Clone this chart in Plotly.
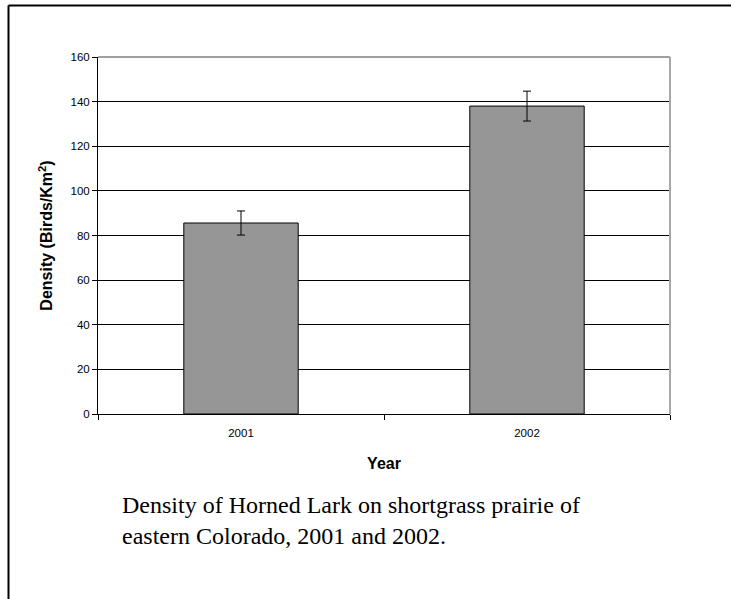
import plotly.graph_objects as go

# Horned Lark density by survey year
years = ["2001", "2002"]
density = [85.6, 138.0]
err_plus = [5.4, 6.7]
err_minus = [5.4, 6.7]

W, H = 731, 599
L, R, T, B = 98, 61, 57, 185
pw, ph = W - L - R, H - T - B


def px_x(x):
    return (x - L) / pw


def px_y(y):
    return (H - B - y) / ph


fig = go.Figure()
fig.add_trace(go.Bar(
    x=years,
    y=density,
    marker=dict(color="#969696", line=dict(color="#000000", width=1)),
    error_y=dict(type="data", symmetric=False, array=err_plus, arrayminus=err_minus,
                 color="#000000", thickness=1, width=4),
    width=0.4,
    showlegend=False,
))

fig.update_layout(
    width=W, height=H,
    margin=dict(l=L, r=R, t=T, b=B, pad=0),
    paper_bgcolor="white",
    plot_bgcolor="white",
    font=dict(family="Liberation Sans, Arial, sans-serif", color="#000000", size=11),
    xaxis=dict(
        type="category",
        showline=True, linecolor="#000000", linewidth=1,
        ticks="outside", ticklen=5, tickcolor="#000000", tickson="boundaries",
        ticklabelstandoff=8,
        showgrid=False,
        tickfont=dict(size=11.5),
        title=dict(text="<b>Year</b>", font=dict(size=16), standoff=20),
    ),
    yaxis=dict(
        range=[0, 160], dtick=20, tick0=0,
        showline=True, linecolor="#000000", linewidth=1,
        ticks="outside", ticklen=5, tickcolor="#000000",
        showgrid=True, gridcolor="#000000", gridwidth=1,
        zeroline=False,
        tickfont=dict(size=11.5),
        title=dict(text="<b>Density (Birds/Km<sup>2</sup>)</b>", font=dict(size=16), standoff=13),
    ),
    shapes=[
        # top gridline at 160
        dict(type="line", xref="paper", yref="paper", x0=0, x1=1, y0=1, y1=1,
             line=dict(color="#404040", width=1)),
        # plot area right border
        dict(type="line", xref="paper", yref="paper", x0=1, x1=1, y0=0, y1=1,
             line=dict(color="#a8a8a8", width=2)),
        # outer frame (left and top edges)
        dict(type="line", xref="paper", yref="paper",
             x0=px_x(8.5), x1=px_x(8.5), y0=px_y(5.5), y1=px_y(610),
             line=dict(color="#000000", width=2)),
        dict(type="line", xref="paper", yref="paper",
             x0=px_x(8.5), x1=px_x(740), y0=px_y(5.5), y1=px_y(5.5),
             line=dict(color="#000000", width=2)),
    ],
    annotations=[
        dict(text="Density of Horned Lark on shortgrass prairie of<br>eastern Colorado, 2001 and 2002.",
             xref="paper", yref="paper", x=px_x(120), y=px_y(490),
             xanchor="left", yanchor="top", align="left", showarrow=False,
             font=dict(family="Liberation Serif, Times New Roman, serif", size=24, color="#000000")),
    ],
)

fig.write_html("out.html")
